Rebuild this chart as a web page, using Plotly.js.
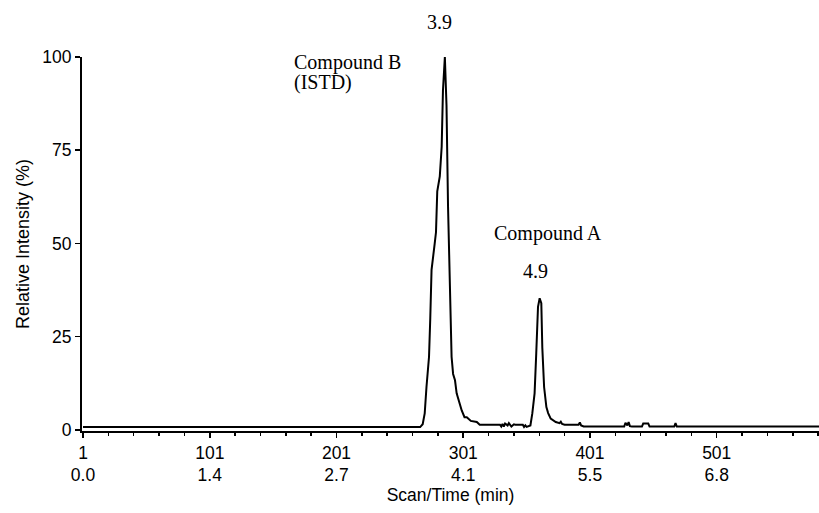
<!DOCTYPE html>
<html>
<head>
<meta charset="utf-8">
<script src="https://cdn.plot.ly/plotly-3.0.1.min.js"></script>
<style>
html,body{margin:0;padding:0;background:#fff;}
#chart{width:819px;height:513px;}
</style>
</head>
<body>
<div id="chart"></div>
<script>
// Scan numbers (x) and relative intensity (%)
const scanNumber = [
  1, 267, 269, 270.6, 272, 274, 275, 276, 278.5, 279.5, 280.5, 282.5, 284, 285, 286.5,
  287.8, 289, 290.5, 291.8, 293, 294.5, 295.8, 297, 297.9, 299.8, 302, 303.8, 307, 311.7, 314,
  330, 331, 332, 333, 334, 336, 337, 339, 341, 342, 348, 349, 350, 351, 354,
  355.5, 357.3, 358.6, 360, 361.3, 362.6, 363.4, 364.8, 366.6, 368, 370, 372, 374,
  377, 378, 379, 381, 392, 393, 394, 396, 428, 429, 430.5, 431.5, 432.5, 434, 442, 443, 447, 448, 467.5, 468.5, 469.5, 582
];
const relIntensity = [
  0.75, 0.75, 1.5, 4.4, 11.5, 19.6, 30, 42.9, 50, 53, 64, 68, 76, 91, 100,
  87, 60, 33, 19.6, 15, 13.3, 9.8, 8.5, 7.1, 5.2, 3.4, 3.4, 2.4, 2.1, 1.4,
  1.4, 0.9, 1.6, 0.9, 1.7, 1.2, 1.8, 0.9, 1.5, 1.4, 1.4, 0.8, 1.2, 0.8, 1.2,
  4.4, 9.8, 20.5, 33, 35.3, 34, 22, 11.5, 6.1, 4.5, 3, 2.5, 2.1,
  1.8, 2.2, 1.6, 1.4, 1.4, 2.0, 1.2, 0.9, 0.9, 1.9, 1.2, 2.1, 1.0, 0.9, 0.9, 1.7, 1.7, 0.9, 0.9, 1.8, 0.9, 0.9
];

const scanTicks = [1, 101, 201, 301, 401, 501];
const timeTicks = ['0.0', '1.4', '2.7', '4.1', '5.5', '6.8'];
const yTicks = [0, 25, 50, 75, 100];

const peakLabels = ['3.9', '4.9'];
const peakScans = [286.5, 361.3];
const compoundNames = ['Compound B', '(ISTD)', 'Compound A'];

const sans = 'Liberation Sans, Arial, sans-serif';
const serif = 'Liberation Serif, Times New Roman, serif';

const trace = {
  x: scanNumber,
  y: relIntensity,
  type: 'scatter',
  mode: 'lines',
  line: {color: '#000', width: 2},
  hoverinfo: 'skip'
};

const layout = {
  width: 819, height: 513,
  margin: {l: 82, r: 0, t: 57, b: 82},
  paper_bgcolor: '#fff', plot_bgcolor: '#fff',
  showlegend: false,
  xaxis: {
    range: [0.2, 581.7],
    tickmode: 'array',
    tickvals: scanTicks,
    ticktext: scanTicks.map((s, i) => s + '<br>' + timeTicks[i]),
    ticks: 'outside', ticklen: 5, tickwidth: 1.5, tickcolor: '#000',
    minor: {tickmode: 'linear', tick0: 1, dtick: 20, ticks: 'outside', ticklen: 3, tickwidth: 1.5, tickcolor: '#000', showgrid: false},
    showline: true, linecolor: '#000', linewidth: 1.5,
    showgrid: false, zeroline: false,
    tickfont: {family: sans, size: 17.5, color: '#000'},
    title: {text: 'Scan/Time (min)', font: {family: sans, size: 17.5, color: '#000'}, standoff: 4}
  },
  yaxis: {
    range: [-0.3, 100],
    tickmode: 'array',
    tickvals: yTicks,
    ticks: 'outside', ticklen: 5, tickwidth: 1.5, tickcolor: '#000',
    showline: true, linecolor: '#000', linewidth: 2,
    showgrid: false, zeroline: false,
    tickfont: {family: sans, size: 17.5, color: '#000'},
    title: {text: 'Relative Intensity (%)', font: {family: sans, size: 18, color: '#000'}, standoff: 8}
  },
  annotations: [
    {x: peakScans[0] - 4, y: 1.094, xref: 'x', yref: 'paper', text: peakLabels[0], showarrow: false,
     font: {family: serif, size: 20, color: '#000'}, xanchor: 'center', yanchor: 'middle'},
    {x: peakScans[1] - 3, y: 42.6, xref: 'x', yref: 'y', text: peakLabels[1], showarrow: false,
     font: {family: serif, size: 20, color: '#000'}, xanchor: 'center', yanchor: 'middle'},
    {x: 165.8, y: 98.5, xref: 'x', yref: 'y', text: compoundNames[0], showarrow: false,
     font: {family: serif, size: 20, color: '#000'}, xanchor: 'left', yanchor: 'middle'},
    {x: 165.8, y: 93.1, xref: 'x', yref: 'y', text: compoundNames[1], showarrow: false,
     font: {family: serif, size: 20, color: '#000'}, xanchor: 'left', yanchor: 'middle'},
    {x: 323.6, y: 52.8, xref: 'x', yref: 'y', text: compoundNames[2], showarrow: false,
     font: {family: serif, size: 20, color: '#000'}, xanchor: 'left', yanchor: 'middle'}
  ]
};

Plotly.newPlot('chart', [trace], layout, {displayModeBar: false, staticPlot: true});
</script>
</body>
</html>
